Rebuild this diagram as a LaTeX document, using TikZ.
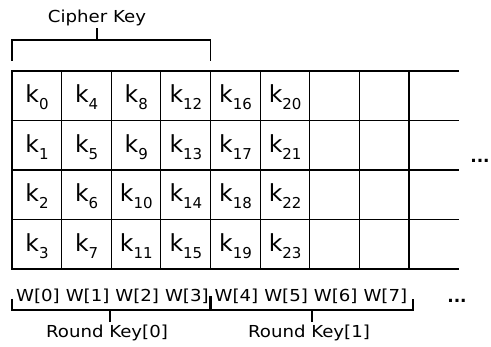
\documentclass[tikz,border=0pt]{standalone}
\usepackage{fontspec}
\setmainfont{DejaVu Sans}
\newfontfamily\lblfont[FakeStretch=1.1]{DejaVu Sans}
\newcommand\ksub[1]{\raisebox{-7pt}{\fontsize{15}{15}\selectfont #1}}
\begin{document}
\begin{tikzpicture}[x=1pt,y=-1pt,
  gridline/.style={line width=1.1pt},
  frameline/.style={line width=2.2pt},
  bracketline/.style={line width=1.8pt},
  kcell/.style={anchor=base,inner sep=0pt,font=\fontsize{23.5}{23.5}\selectfont},
  wlbl/.style={anchor=base,inner sep=0pt,font=\lblfont\fontsize{16.5}{16.5}\selectfont},
  dots/.style={inner sep=0pt,font=\bfseries\fontsize{17}{17}\selectfont}]
\useasboundingbox (0,0) rectangle (491,347);

% key schedule array: thin inner lines, heavy top, bottom and left edges
\foreach \i in {1,...,8}
  \draw[gridline] (12+49.625*\i,71) -- (12+49.625*\i,269);
\foreach \y in {120.5,170,219.5}
  \draw[gridline] (12,\y) -- (459,\y);
\draw[frameline] (459,71) -- (12,71) -- (12,269) -- (459,269);

% key bytes, column by column
\foreach \c in {0,...,5}
  \foreach \r in {0,...,3}{
    \pgfmathtruncatemacro\n{4*\c+\r}
    \node[kcell] (k\n) at (37+49.625*\c,103+49.5*\r) {k\ksub{\n}};
  }
\node[dots] (rdots) at (480,161) {...};

% cipher key brace over the first four columns
\coordinate (ckA) at (12,61);
\coordinate (ckB) at (210.5,61);
\coordinate (ckM) at (97,40);
\coordinate (ckT) at (97,28);
\draw[bracketline] (ckA) |- (ckB |- ckM) -- (ckB);
\node[wlbl] (ck) at (97,23) {Cipher Key};
\draw[bracketline] (ckM) -- (ckT);

% words
\foreach \i in {0,...,7}
  \node[wlbl] (w\i) at (38+49.625*\i,302) {W[\i]};
\node[dots] (bdots) at (457,301) {...};

% round key braces under the words
\coordinate (rkA) at (12,299);
\coordinate (rkB) at (210.5,310);
\coordinate (rkC) at (413,299);
\coordinate (rk0t) at (110,310);
\coordinate (rk1t) at (312,310);
\draw[bracketline] (rkA) |- (rkB) -| (rkC);
\draw[line width=2.6pt] (rkB) -- ++(0,-14);
\node[wlbl] (rk0) at (107,338) {Round Key[0]};
\node[wlbl] (rk1) at (309,338) {Round Key[1]};
\draw[bracketline] (rk0t) -- ++(0,12);
\draw[bracketline] (rk1t) -- ++(0,12);
\end{tikzpicture}
\end{document}
